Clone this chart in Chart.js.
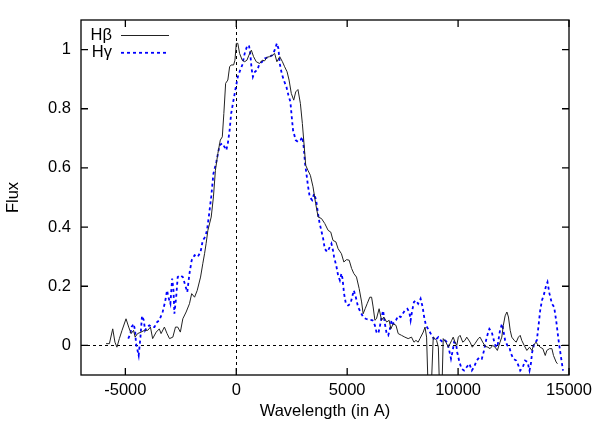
<!DOCTYPE html>
<html>
<head>
<meta charset="utf-8">
<script src="https://cdn.jsdelivr.net/npm/chart.js@4.4.1/dist/chart.umd.min.js"></script>
<style>
  html, body { margin: 0; padding: 0; background: #fff; }
  #wrap { width: 599px; height: 428px; }
</style>
</head>
<body>
<div id="wrap"><canvas id="plot" width="599" height="428"></canvas></div>
<script>
// H-beta profile (wavelength offset, normalised flux)
const hbWave = [-5870, -5720, -5570, -5470, -5380, -5270, -5150, -4970, -4850, -4740,
  -4630, -4560, -4450, -4290, -4140, -3990, -3870, -3770, -3610, -3470,
  -3390, -3240, -3120, -3010, -2860, -2740, -2640, -2520, -2410, -2260,
  -2110, -2010, -1880, -1760, -1610, -1510, -1430, -1360, -1280, -1130,
  -1030, -940, -830, -720, -630, -560, -480, -380, -300, -230,
  -120, -60, 0, 70, 150, 270, 380, 480, 570, 680,
  780, 900, 1050, 1170, 1280, 1380, 1500, 1630, 1730, 1830,
  1960, 2080, 2180, 2290, 2380, 2480, 2590, 2680, 2780, 2890,
  2980, 3040, 3130, 3230, 3340, 3460, 3580, 3690, 3840, 3990,
  4140, 4260, 4360, 4490, 4590, 4740, 4850, 4970, 5090, 5200,
  5300, 5420, 5540, 5650, 5720, 5810, 5900, 6020, 6100, 6170,
  6250, 6320, 6440, 6550, 6650, 6780, 6890, 6970, 7070, 7200,
  7300, 7450, 7600, 7750, 7900, 8010, 8100, 8200, 8280, 8430,
  8510, 8580, 8710, 8880, 8960, 9030, 9110, 9220, 9330, 9450,
  9560, 9710, 9780, 9860, 9940, 10010, 10090, 10210, 10310, 10390,
  10540, 10640, 10760, 10910, 10990, 11110, 11220, 11340, 11440, 11560,
  11670, 11770, 11890, 11970, 12040, 12120, 12200, 12270, 12350, 12420,
  12530, 12620, 12720, 12800, 12870, 12980, 13100, 13220, 13330, 13400,
  13510, 13620, 13700, 13820, 13930, 14000, 14120, 14230, 14300, 14420,
  14480];
const hbFlux = [0.006, 0.006, 0.056, 0.011, -0.006, 0.023, 0.051, 0.090, 0.062, 0.040,
  0.051, 0.028, 0.040, 0.045, 0.051, 0.051, 0.062, 0.023, 0.045, 0.056,
  0.040, 0.062, 0.040, 0.023, 0.028, 0.062, 0.062, 0.045, 0.090, 0.113,
  0.141, 0.175, 0.163, 0.186, 0.231, 0.276, 0.310, 0.344, 0.389, 0.434,
  0.502, 0.592, 0.649, 0.694, 0.705, 0.784, 0.886, 0.897, 0.942, 0.948,
  0.948, 0.964, 1.021, 1.021, 0.987, 0.964, 0.959, 0.964, 0.981, 0.998,
  0.976, 0.959, 0.953, 0.964, 0.962, 0.974, 0.976, 0.981, 0.987, 0.959,
  0.976, 0.959, 0.942, 0.925, 0.897, 0.852, 0.829, 0.857, 0.865, 0.818,
  0.750, 0.694, 0.609, 0.592, 0.575, 0.536, 0.479, 0.434, 0.429, 0.412,
  0.389, 0.383, 0.355, 0.350, 0.327, 0.310, 0.282, 0.290, 0.288, 0.260,
  0.243, 0.231, 0.192, 0.147, 0.107, 0.124, 0.141, 0.163, 0.163, 0.130,
  0.085, 0.090, 0.124, 0.085, 0.096, 0.079, 0.085, 0.056, 0.073, 0.068,
  0.040, 0.034, 0.028, 0.023, 0.028, 0.011, 0.017, 0.011, 0.023, 0.045,
  0.062, 0.028, -0.300, 0.028, 0.023, 0.017, -0.006, -0.300, 0.023, 0.011,
  -0.006, 0.017, 0.028, 0.011, 0.000, 0.028, 0.034, 0.011, 0.017, 0.028,
  0.011, -0.006, 0.006, 0.023, 0.028, 0.011, -0.003, -0.006, -0.011, 0.000,
  -0.006, -0.017, 0.011, 0.028, 0.068, 0.100, 0.113, 0.096, 0.051, 0.028,
  0.017, 0.011, 0.028, 0.034, 0.017, 0.000, -0.017, -0.006, -0.017, 0.000,
  0.011, 0.000, -0.006, -0.011, -0.034, -0.017, -0.011, -0.011, -0.034, -0.056,
  -0.062];

// H-gamma profile
const hgWave = [-4870, -4770, -4720, -4630, -4560, -4520, -4450, -4400, -4320, -4250,
  -4170, -4110, -4020, -3920, -3810, -3690, -3570, -3470, -3320, -3210,
  -3120, -3060, -2970, -2890, -2830, -2790, -2710, -2640, -2520, -2410,
  -2300, -2210, -2110, -2010, -1880, -1740, -1610, -1510, -1400, -1320,
  -1240, -1130, -1030, -900, -750, -630, -530, -450, -380, -300,
  -230, -150, -30, 70, 150, 270, 380, 480, 570, 630,
  690, 750, 840, 950, 1050, 1170, 1280, 1390, 1500, 1630,
  1730, 1830, 1900, 1960, 2050, 2140, 2260, 2350, 2440, 2500,
  2560, 2680, 2780, 2890, 2980, 3040, 3100, 3160, 3230, 3310,
  3420, 3510, 3600, 3670, 3750, 3840, 3910, 3990, 4090, 4180,
  4290, 4360, 4410, 4520, 4590, 4670, 4740, 4790, 4860, 4940,
  5040, 5150, 5240, 5300, 5390, 5490, 5600, 5720, 5840, 5990,
  6140, 6250, 6320, 6400, 6470, 6550, 6620, 6700, 6780, 6850,
  6930, 7000, 7070, 7200, 7300, 7410, 7500, 7600, 7710, 7800,
  7860, 7920, 8010, 8100, 8200, 8310, 8400, 8470, 8550, 8660,
  8810, 8960, 9110, 9220, 9310, 9410, 9510, 9600, 9680, 9760,
  9820, 9910, 9960, 10060, 10160, 10270, 10390, 10510, 10620, 10720,
  10840, 10960, 11070, 11170, 11260, 11340, 11410, 11520, 11590, 11680,
  11770, 11830, 11890, 11980, 12040, 12120, 12220, 12310, 12390, 12490,
  12620, 12720, 12800, 12920, 13020, 13130, 13220, 13280, 13340, 13430,
  13550, 13620, 13700, 13780, 13880, 13970, 14030, 14120, 14230, 14330,
  14420, 14530, 14640, 14730];
const hgFlux = [0.023, 0.040, 0.062, 0.073, 0.051, 0.006, -0.017, -0.034, 0.028, 0.100,
  0.085, 0.051, 0.062, 0.068, 0.062, 0.062, 0.079, 0.085, 0.113, 0.147,
  0.186, 0.163, 0.141, 0.226, 0.186, 0.107, 0.163, 0.231, 0.237, 0.231,
  0.203, 0.180, 0.243, 0.288, 0.305, 0.299, 0.316, 0.355, 0.367, 0.389,
  0.434, 0.502, 0.581, 0.620, 0.677, 0.683, 0.671, 0.660, 0.683, 0.727,
  0.784, 0.818, 0.869, 0.908, 0.925, 0.948, 0.987, 1.010, 1.015, 0.987,
  0.936, 0.908, 0.925, 0.931, 0.953, 0.959, 0.970, 0.973, 0.976, 0.981,
  0.998, 1.021, 1.004, 0.953, 0.919, 0.897, 0.874, 0.846, 0.823, 0.773,
  0.727, 0.694, 0.688, 0.694, 0.705, 0.671, 0.615, 0.582, 0.541, 0.502,
  0.491, 0.513, 0.491, 0.453, 0.416, 0.386, 0.364, 0.327, 0.316, 0.327,
  0.344, 0.321, 0.299, 0.265, 0.237, 0.220, 0.243, 0.226, 0.175, 0.141,
  0.135, 0.141, 0.169, 0.186, 0.163, 0.130, 0.113, 0.096, 0.090, 0.087,
  0.085, 0.068, 0.045, 0.040, 0.062, 0.096, 0.118, 0.073, 0.040, 0.034,
  0.056, 0.085, 0.073, 0.085, 0.100, 0.096, 0.107, 0.118, 0.124, 0.113,
  0.085, 0.113, 0.147, 0.152, 0.141, 0.158, 0.130, 0.096, 0.068, 0.054,
  0.034, 0.017, 0.028, 0.017, 0.011, 0.017, 0.011, -0.017, -0.045, -0.017,
  0.011, 0.006, -0.023, -0.056, -0.079, -0.085, -0.073, -0.062, -0.085, -0.073,
  -0.051, -0.040, -0.045, -0.017, 0.017, 0.040, 0.056, 0.045, 0.023, 0.000,
  -0.006, 0.023, 0.051, 0.073, 0.051, 0.017, 0.000, -0.006, -0.028, -0.045,
  -0.051, -0.068, -0.085, -0.073, -0.051, -0.056, -0.085, -0.062, -0.023, 0.006,
  0.017, 0.062, 0.118, 0.152, 0.175, 0.203, 0.214, 0.175, 0.141, 0.130,
  0.085, 0.017, -0.040, -0.085];

const xTickValues = [-5000, 0, 5000, 10000, 15000];
const yTickValues = [0, 0.2, 0.4, 0.6, 0.8, 1];

const FONT = "'Liberation Sans', Arial, Helvetica, sans-serif";
const FONT_SIZE = 16.5;
const TICK_LEN = 7;

const toPoints = (xs, ys) => xs.map((x, i) => ({ x, y: ys[i] }));

// gnuplot style frame: border, inward mirrored ticks, dotted zero axes, key
const gnuplotFrame = {
    id: 'gnuplotFrame',
    beforeDatasetsDraw(chart) {
        const { ctx, chartArea: a, scales: { x, y } } = chart;
        ctx.save();
        ctx.strokeStyle = '#000';
        ctx.lineWidth = 1;
        ctx.setLineDash([3, 3]);
        const x0 = Math.round(x.getPixelForValue(0)) + 0.5;
        const y0 = Math.round(y.getPixelForValue(0)) + 0.5;
        ctx.beginPath();
        ctx.moveTo(x0, a.top);
        ctx.lineTo(x0, a.bottom);
        ctx.moveTo(a.left, y0);
        ctx.lineTo(a.right, y0);
        ctx.stroke();
        ctx.restore();
    },
    afterDatasetsDraw(chart) {
        const { ctx, chartArea: a, scales: { x, y } } = chart;
        ctx.save();
        ctx.strokeStyle = '#000';
        ctx.lineWidth = 1.3;
        ctx.setLineDash([]);
        ctx.strokeRect(a.left, a.top, a.right - a.left, a.bottom - a.top);

        ctx.beginPath();
        x.ticks.forEach(t => {
            const px = x.getPixelForValue(t.value);
            ctx.moveTo(px, a.bottom);
            ctx.lineTo(px, a.bottom - TICK_LEN);
            ctx.moveTo(px, a.top);
            ctx.lineTo(px, a.top + TICK_LEN);
        });
        y.ticks.forEach(t => {
            const py = y.getPixelForValue(t.value);
            ctx.moveTo(a.left, py);
            ctx.lineTo(a.left + TICK_LEN, py);
            ctx.moveTo(a.right, py);
            ctx.lineTo(a.right - TICK_LEN, py);
        });
        ctx.stroke();

        // key, top left: label right aligned, sample to its right
        ctx.font = FONT_SIZE + 'px ' + FONT;
        ctx.textAlign = 'right';
        ctx.textBaseline = 'middle';
        chart.data.datasets.forEach((ds, i) => {
            const ly = a.top + 15 + i * 17.3;
            ctx.fillStyle = '#000';
            ctx.fillText(ds.label, a.left + 31, ly);
            ctx.strokeStyle = ds.borderColor;
            ctx.lineWidth = ds.borderWidth;
            ctx.setLineDash(ds.borderDash || []);
            ctx.beginPath();
            ctx.moveTo(a.left + 40, ly + 0.5);
            ctx.lineTo(a.left + 88, ly + 0.5);
            ctx.stroke();
        });
        ctx.restore();
    }
};

new Chart(document.getElementById('plot'), {
    type: 'line',
    data: {
        datasets: [
            {
                label: 'Hβ',
                data: toPoints(hbWave, hbFlux),
                borderColor: '#222',
                borderWidth: 1,
                pointRadius: 0,
                tension: 0
            },
            {
                label: 'Hγ',
                data: toPoints(hgWave, hgFlux),
                borderColor: '#0000ff',
                borderWidth: 1.8,
                borderDash: [3, 3],
                pointRadius: 0,
                tension: 0
            }
        ]
    },
    options: {
        responsive: false,
        animation: false,
        events: [],
        layout: { padding: { top: 20, right: 30, left: 0, bottom: 0 } },
        plugins: {
            legend: { display: false },
            tooltip: { enabled: false }
        },
        scales: {
            x: {
                type: 'linear',
                min: -7000,
                max: 15000,
                afterBuildTicks: scale => { scale.ticks = xTickValues.map(v => ({ value: v })); },
                afterFit: scale => { scale.height = 53; },
                grid: { display: false, drawTicks: false },
                border: { display: false },
                ticks: {
                    padding: 6,
                    color: '#000',
                    font: { family: FONT, size: FONT_SIZE },
                    maxRotation: 0,
                    callback: v => String(v)
                },
                title: {
                    display: true,
                    text: 'Wavelength (in A)',
                    color: '#000',
                    font: { family: FONT, size: FONT_SIZE },
                    padding: { top: 0, bottom: 7 }
                }
            },
            y: {
                min: -0.1,
                max: 1.1,
                afterBuildTicks: scale => { scale.ticks = yTickValues.map(v => ({ value: v })); },
                afterFit: scale => { scale.width = 81; },
                grid: { display: false, drawTicks: false },
                border: { display: false },
                ticks: {
                    padding: 10,
                    color: '#000',
                    font: { family: FONT, size: FONT_SIZE },
                    callback: v => String(Math.round(v * 10) / 10)
                },
                title: {
                    display: true,
                    text: 'Flux',
                    color: '#000',
                    font: { family: FONT, size: FONT_SIZE },
                    padding: { top: 4, bottom: 0 }
                }
            }
        }
    },
    plugins: [gnuplotFrame]
});
</script>
</body>
</html>
